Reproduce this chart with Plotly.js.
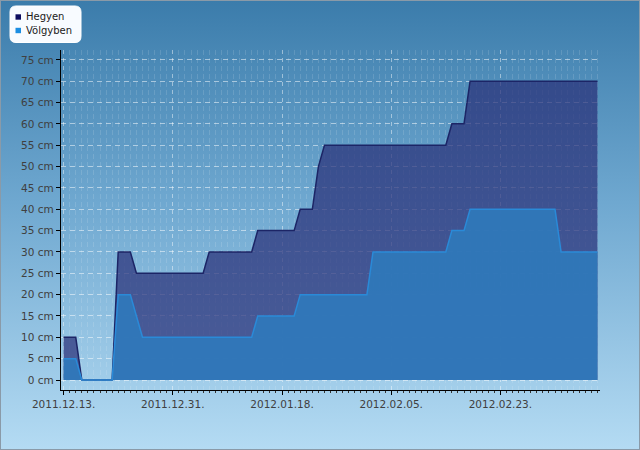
<!DOCTYPE html>
<html>
<head>
<meta charset="utf-8">
<script src="https://cdn.plot.ly/plotly-3.0.1.min.js"></script>
<style>
  html, body { margin: 0; padding: 0; }
  #wrap {
    position: relative; width: 638px; height: 448px;
    border: 1px solid #8a9aa8;
    background: linear-gradient(to bottom, #3b7cab 0%, #6fa8d0 45%, #b4dbf3 100%);
  }
  #chart { position: absolute; left: -1px; top: -1px; width: 640px; height: 450px; }
</style>
</head>
<body>
<div id="wrap"><div id="chart"></div></div>
<script>
// Snow depth data (cm)
const seriesNames = ['Hegyen', 'Völgyben'];
const dates = ['2011-12-13','2011-12-15','2011-12-16','2011-12-21','2011-12-22','2011-12-24','2011-12-25','2011-12-26',
  '2012-01-05','2012-01-06','2012-01-13','2012-01-14','2012-01-20','2012-01-21','2012-01-23','2012-01-24','2012-01-25',
  '2012-02-01','2012-02-02','2012-02-14','2012-02-15','2012-02-17','2012-02-18','2012-03-03','2012-03-04','2012-03-10'];
const hegyen = [10,10,0,0,30,30,25,25, 25,30,30,35,35,40,40,50,55, 55,55,55,60,60,70,70,70,70];
const volgyben = [5,5,0,0,20,20,15,10, 10,10,10,15,15,20,20,20,20, 20,30,30,35,35,40,40,30,30];
const xTickStart = '2011-12-13';
const yTicks = [0,5,10,15,20,25,30,35,40,45,50,55,60,65,70,75];

const W = 640, H = 450, L = 61, R = 40, T = 50, B = 60;
const pw = W - L - R, ph = H - T - B;
const px = x => (x - L) / pw;
const py = y => (H - B - y) / ph;

const traces = [
  { x: dates, y: hegyen, type: 'scatter', mode: 'lines', name: seriesNames[0], showlegend: false,
    fill: 'tozeroy', fillcolor: 'rgba(42,48,120,0.72)', line: { color: '#1c2566', width: 1.5 }, hoverinfo: 'skip' },
  { x: dates, y: volgyben, type: 'scatter', mode: 'lines', name: seriesNames[1], showlegend: false,
    fill: 'tozeroy', fillcolor: 'rgba(47,121,186,0.93)', line: { color: '#2a8ad8', width: 1.5 }, hoverinfo: 'skip' }
];

// legend box (rounded rectangle) in paper coordinates
function rrect(x0, y0, x1, y1, r) {
  const P = (x, y) => px(x) + ',' + py(y);
  return 'M' + P(x0 + r, y0) + ' L' + P(x1 - r, y0) + ' Q' + P(x1, y0) + ' ' + P(x1, y0 + r) +
    ' L' + P(x1, y1 - r) + ' Q' + P(x1, y1) + ' ' + P(x1 - r, y1) +
    ' L' + P(x0 + r, y1) + ' Q' + P(x0, y1) + ' ' + P(x0, y1 - r) +
    ' L' + P(x0, y0 + r) + ' Q' + P(x0, y0) + ' ' + P(x0 + r, y0) + ' Z';
}
const legendColors = ['#0c0c5e', '#1b8ee2'];
const legendY = [17, 30.5];
const shapes = [
  { type: 'path', xref: 'paper', yref: 'paper', path: rrect(10, 6, 81, 42.5, 6),
    fillcolor: '#f8fbff', line: { color: '#ffffff', width: 1 } }
];
const annotations = [];
seriesNames.forEach((n, i) => {
  shapes.push({ type: 'rect', xref: 'paper', yref: 'paper',
    x0: px(15.5), x1: px(21), y0: py(legendY[i] - 2.7), y1: py(legendY[i] + 2.7),
    fillcolor: legendColors[i], line: { width: 0 } });
  annotations.push({ xref: 'paper', yref: 'paper', x: px(23.5), y: py(legendY[i]), xanchor: 'left', yanchor: 'middle',
    text: n, showarrow: false, font: { family: 'DejaVu Sans', size: 10, color: '#1a1a1a' } });
});

const layout = {
  width: W, height: H,
  margin: { l: L, r: R, t: T, b: B, pad: 0 },
  paper_bgcolor: 'rgba(0,0,0,0)', plot_bgcolor: 'rgba(0,0,0,0)',
  font: { family: 'DejaVu Sans', size: 10, color: '#404040' },
  showlegend: false,
  xaxis: {
    type: 'date', range: ['2011-12-12 13:40', '2012-03-10 10:00'],
    tick0: xTickStart, dtick: 18 * 86400000, tickformat: '%Y.%m.%d.',
    showline: true, linecolor: '#000', linewidth: 1.2,
    ticks: 'outside', ticklen: 4, tickcolor: '#000',
    showgrid: true, gridcolor: 'rgba(255,255,255,0.45)', griddash: '4px,4px', gridwidth: 1,
    minor: { dtick: 86400000, ticks: 'outside', ticklen: 2, tickcolor: '#333',
      showgrid: true, gridcolor: 'rgba(255,255,255,0.13)', griddash: '5px,3px', gridwidth: 1 },
    zeroline: false, fixedrange: true, tickfont: { size: 10.5, color: '#404040' }
  },
  yaxis: {
    range: [-2.34, 77.3], tickvals: yTicks, ticktext: yTicks.map(v => v + ' cm'),
    showline: true, linecolor: '#000', linewidth: 1.2,
    ticks: 'outside', ticklen: 4, tickcolor: '#000',
    showgrid: true, gridcolor: 'rgba(255,255,255,0.5)', griddash: '5px,4px', gridwidth: 1,
    zeroline: false, fixedrange: true, tickfont: { size: 10.5, color: '#404040' }
  },
  shapes: shapes,
  annotations: annotations
};

Plotly.newPlot('chart', traces, layout, { displayModeBar: false, staticPlot: true });
</script>
</body>
</html>
